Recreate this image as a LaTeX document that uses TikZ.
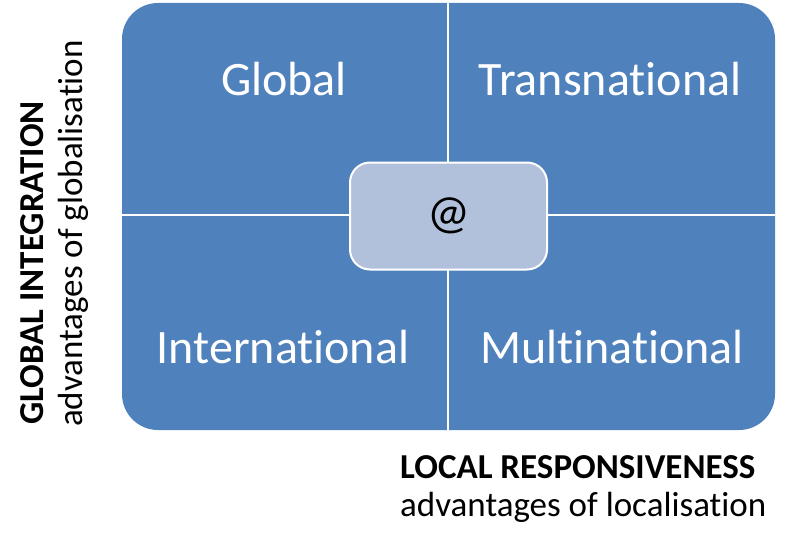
\documentclass[tikz,border=0pt]{standalone}
\usepackage{fontspec}
\setmainfont{Carlito}[Ligatures={NoCommon}]
\definecolor{quadblue}{HTML}{4F81BD}
\definecolor{paleblue}{HTML}{B2C1DB}

\begin{document}
\begin{tikzpicture}[x=1pt, y=-1pt,
    quadlabel/.style={text=white, anchor=base, font=\fontsize{48}{52}\selectfont},
    axislabel/.style={anchor=base west, inner sep=0pt, font=\fontsize{35}{40}\selectfont}]

    \useasboundingbox (0,0) rectangle (786,551);

    % Matrix
        %% outer box
        \fill [quadblue, rounded corners=36pt] (122,3) rectangle (775,430);

        %% dividers
        \draw [white, line width=2.5pt] (448,3) -- (448,430);
        \draw [white, line width=2.5pt] (122,215) -- (775,215);

        %% quadrants
        \node [quadlabel] (global) at (284,95) {Global};
        \node [quadlabel] (transnational) at (610,95) {Transnational};
        \node [quadlabel] (international) at (283,363) {International};
        \node [quadlabel] (multinational) at (612,363) {Multinational};

        %% centre
        \node [fill=paleblue, draw=white, line width=2pt, rounded corners=20pt,
               minimum width=197pt, minimum height=107pt,
               font=\fontsize{48}{52}\selectfont] (web) at (448.5,216) {@};

    % Axes
        %% horizontal
        \node [axislabel] (local) at (400,478) {\textbf{LOCAL RESPONSIVENESS}};
        \node [axislabel] (localnote) at (400,516) {advantages of localisation};

        %% vertical
        \node [axislabel, rotate=90] (integration) at (43,425) {\textbf{GLOBAL INTEGRATION}};
        \node [axislabel, rotate=90] (integrationnote) at (82,427) {advantages of globalisation};

\end{tikzpicture}
\end{document}
